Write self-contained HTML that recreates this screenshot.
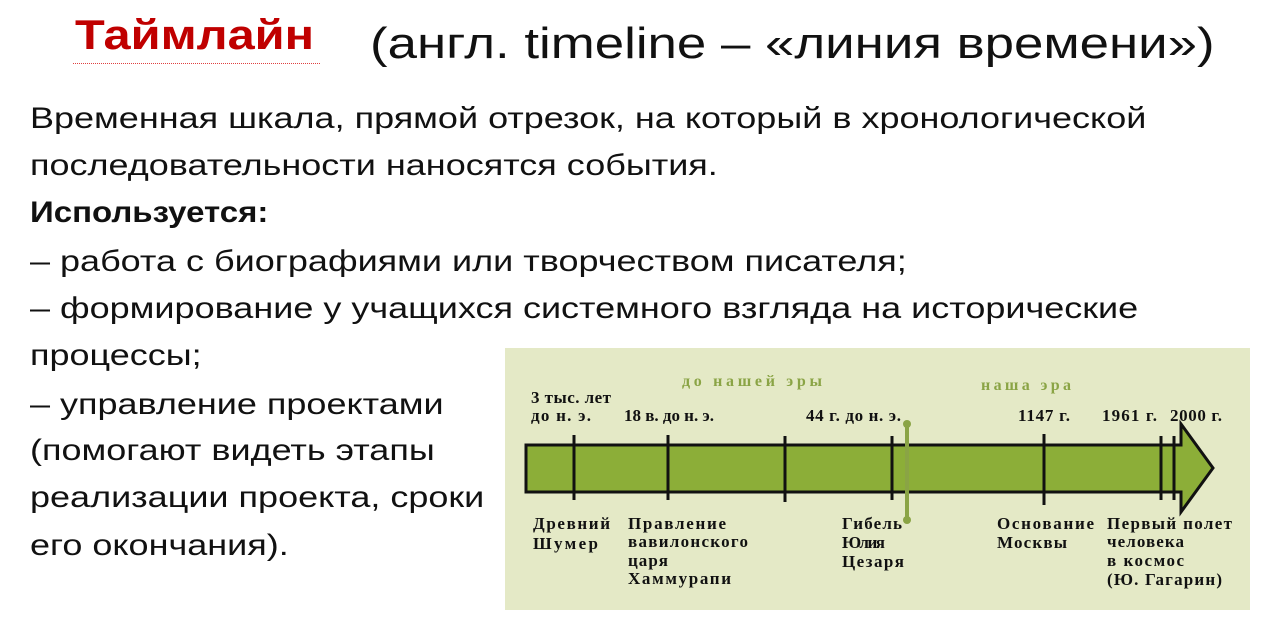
<!DOCTYPE html>
<html><head><meta charset="utf-8"><style>
body{margin:0;width:1263px;height:627px;background:#fff;position:relative;overflow:hidden;font-family:"Liberation Sans",sans-serif;}
.t{position:absolute;white-space:nowrap;font-size:30px;color:#111;line-height:1;transform:scaleX(1.2);transform-origin:0 0;}
svg text{font-family:"Liberation Serif",serif;font-weight:bold;}
</style></head><body>
<div class="t" style="left:75px;top:14px;font-size:42px;font-weight:bold;color:#c00000;transform:scaleX(1.16)">Таймлайн</div>
<div style="position:absolute;left:73px;top:63px;width:247px;border-bottom:1px dotted #e04040"></div>
<div class="t" style="left:370px;top:22px;font-size:44px;">(англ. timeline – «линия времени»)</div>
<div class="t" style="left:30px;top:104px">Временная шкала, прямой отрезок, на который в хронологической</div>
<div class="t" style="left:30px;top:151px">последовательности наносятся события.</div>
<div class="t" style="left:30px;top:198px;font-weight:bold;transform:scaleX(1.1)">Используется:</div>
<div class="t" style="left:30px;top:247px">– работа с биографиями или творчеством писателя;</div>
<div class="t" style="left:30px;top:294px">– формирование у учащихся системного взгляда на исторические</div>
<div class="t" style="left:30px;top:341px">процессы;</div>
<div class="t" style="left:30px;top:390px">– управление проектами</div>
<div class="t" style="left:30px;top:436px">(помогают видеть этапы</div>
<div class="t" style="left:30px;top:483px">реализации проекта, сроки</div>
<div class="t" style="left:30px;top:531px">его окончания).</div>
<svg style="position:absolute;left:505px;top:348px" width="745" height="262" viewBox="505 348 745 262">
<rect x="505" y="348" width="745" height="262" fill="#e4e9c6"/>
<polygon points="526,445 1181,445 1181,424 1213,468 1181,512 1181,492 526,492" fill="#8cae38" stroke="#111" stroke-width="3"/>
<g stroke="#111" stroke-width="3">
<line x1="574" y1="435" x2="574" y2="500"/><line x1="668" y1="435" x2="668" y2="500"/>
<line x1="785" y1="436" x2="785" y2="502"/><line x1="892" y1="436" x2="892" y2="500"/>
<line x1="1044" y1="434" x2="1044" y2="505"/><line x1="1161" y1="436" x2="1161" y2="500"/>
<line x1="1174" y1="436" x2="1174" y2="500"/></g>
<line x1="907" y1="424" x2="907" y2="520" stroke="#8aa445" stroke-width="4"/>
<circle cx="907" cy="424" r="4" fill="#8aa445"/><circle cx="907" cy="520" r="4" fill="#8aa445"/>
<g font-size="16" fill="#8aa445"><text x="682" y="386" textLength="140">до нашей эры</text><text x="981" y="390" textLength="90">наша эра</text></g>
<g font-size="17" fill="#111">
<text x="531" y="403" textLength="80">3 тыс. лет</text><text x="531" y="421" textLength="60">до н. э.</text>
<text x="624" y="421" textLength="90">18 в. до н. э.</text><text x="806" y="421" textLength="95">44 г. до н. э.</text>
<text x="1018" y="421" textLength="52">1147 г.</text><text x="1102" y="421" textLength="55">1961 г.</text><text x="1170" y="421" textLength="52">2000 г.</text>
<text x="533" y="529" textLength="77">Древний</text><text x="533" y="549" textLength="65">Шумер</text>
<text x="628" y="529" textLength="98">Правление</text><text x="628" y="547" textLength="120">вавилонского</text><text x="628" y="566" textLength="40">царя</text><text x="628" y="584" textLength="103">Хаммурапи</text>
<text x="842" y="529" textLength="60">Гибель</text><text x="842" y="548" textLength="43">Юлия</text><text x="842" y="567" textLength="62">Цезаря</text>
<text x="997" y="529" textLength="97">Основание</text><text x="997" y="548" textLength="70">Москвы</text>
<text x="1107" y="529" textLength="125">Первый полет</text><text x="1107" y="547" textLength="77">человека</text><text x="1107" y="566" textLength="77">в космос</text><text x="1107" y="585" textLength="115">(Ю. Гагарин)</text>
</g></svg>
</body></html>
